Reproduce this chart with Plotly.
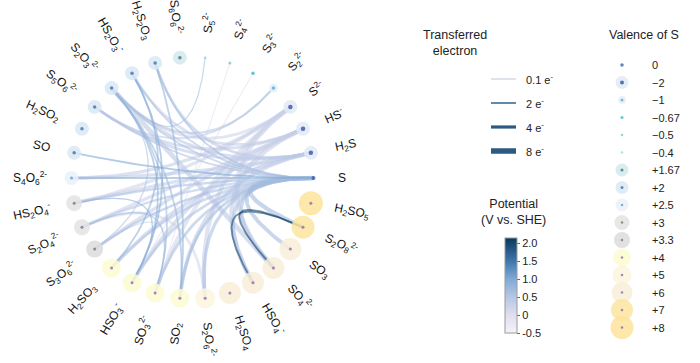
import re
import numpy as np
import plotly.graph_objects as go

# ------------------------------------------------------------------ data
species = ["S", "H2S", "HS-", "S2-", "S2^2-", "S3^2-", "S4^2-", "S5^2-", "S6O6^2-",
           "H2S2O3", "HS2O3-", "S2O3^2-", "S5O6^2-", "H2SO2", "SO", "S4O6^2-",
           "HS2O4-", "S2O4^2-", "S3O6^2-", "H2SO3", "HSO3-", "SO3^2-", "SO2",
           "S2O6^2-", "H2SO4", "HSO4-", "SO4^2-", "SO3", "S2O8^2-", "H2SO5"]
species_labels = [
    "S", "H<sub>2</sub>S", "HS<sup>-</sup>", "S<sup>2-</sup>",
    "S<sub>2</sub><sup>2-</sup>", "S<sub>3</sub><sup>2-</sup>", "S<sub>4</sub><sup>2-</sup>",
    "S<sub>5</sub><sup>2-</sup>", "S<sub>6</sub>O<sub>6</sub><sup>2-</sup>",
    "H<sub>2</sub>S<sub>2</sub>O<sub>3</sub>", "HS<sub>2</sub>O<sub>3</sub><sup>-</sup>",
    "S<sub>2</sub>O<sub>3</sub><sup>2-</sup>", "S<sub>5</sub>O<sub>6</sub><sup>2-</sup>",
    "H<sub>2</sub>SO<sub>2</sub>", "SO", "S<sub>4</sub>O<sub>6</sub><sup>2-</sup>",
    "HS<sub>2</sub>O<sub>4</sub><sup>-</sup>", "S<sub>2</sub>O<sub>4</sub><sup>2-</sup>",
    "S<sub>3</sub>O<sub>6</sub><sup>2-</sup>", "H<sub>2</sub>SO<sub>3</sub>",
    "HSO<sub>3</sub><sup>-</sup>", "SO<sub>3</sub><sup>2-</sup>", "SO<sub>2</sub>",
    "S<sub>2</sub>O<sub>6</sub><sup>2-</sup>", "H<sub>2</sub>SO<sub>4</sub>",
    "HSO<sub>4</sub><sup>-</sup>", "SO<sub>4</sub><sup>2-</sup>", "SO<sub>3</sub>",
    "S<sub>2</sub>O<sub>8</sub><sup>2-</sup>", "H<sub>2</sub>SO<sub>5</sub>"]
valence = [0, -2, -2, -2, -1, -0.67, -0.5, -0.4, 1.67,
           2, 2, 2, 2, 2, 2, 2.5,
           3, 3, 3.3, 4, 4, 4, 4,
           5, 6, 6, 6, 6, 7, 8]

# edges: source, target, transferred electrons, potential (V vs SHE)
edge_src = ["H2S", "H2S", "H2S", "H2S", "H2S", "H2S", "H2S",
            "HS-", "HS-", "HS-", "HS-", "HS-", "HS-",
            "S2-", "S2-", "S2-", "S2-", "S2-", "S2-",
            "S2^2-", "S2^2-", "S3^2-", "S4^2-", "S5^2-",
            "S", "S", "S", "S", "S", "S", "S", "S", "S", "S", "S", "S", "S", "S",
            "S", "S", "S", "S", "S",
            "S2O3^2-", "S2O3^2-", "S2O3^2-", "S2O3^2-", "S2O3^2-",
            "HS2O3-", "HS2O3-", "H2S2O3", "HS2O4-", "S2O4^2-", "S2O6^2-", "S3O6^2-",
            "S2O8^2-", "S2O8^2-"]
edge_dst = ["H2S2O3", "H2SO3", "SO2", "S4O6^2-", "HS2O4-", "S5O6^2-", "S2O3^2-",
            "HS2O3-", "HSO3-", "HSO4-", "S2O4^2-", "S3O6^2-", "S5O6^2-",
            "S2O3^2-", "SO3^2-", "SO4^2-", "S2O6^2-", "S4O6^2-", "HS2O4-",
            "S2O3^2-", "S5O6^2-", "HSO3-", "SO3^2-", "S2O3^2-",
            "S4O6^2-", "SO", "S2O3^2-", "HS2O3-", "H2S2O3", "S5O6^2-", "HS2O4-",
            "S2O4^2-", "S3O6^2-", "H2SO3", "HSO3-", "SO3^2-", "SO2", "S2O6^2-",
            "HSO4-", "SO4^2-", "SO3", "S2O8^2-", "H2S",
            "SO3^2-", "SO4^2-", "HSO3-", "SO2", "S3O6^2-",
            "HSO3-", "H2SO3", "SO2", "HSO3-", "SO3^2-", "S2O4^2-", "SO3^2-",
            "SO4^2-", "HSO4-"]
edge_e = [4, 6, 6, 5, 5, 4, 4,
          4, 6, 8, 5, 5, 4,
          4, 6, 8, 7, 5, 5,
          3, 2, 0.5, 0.5, 1,
          2.5, 2, 2, 2, 2, 2, 3, 3, 3.3, 4, 4, 4, 4, 5,
          6, 6, 6, 7, 2,
          2, 8, 2, 2, 1.3,
          2, 2, 2, 1, 1, 4, 0.7,
          2, 2]
edge_pot = [0.45, 0.35, 0.4, 0.35, 0.3, 0.4, 0.4,
            0.3, 0.3, 0.3, 0.25, 0.3, 0.35,
            0.2, 0.15, 0.2, 0.25, 0.3, 0.2,
            0.45, 0.4, 0.0, 0.0, 0.6,
            0.85, 1.0, 0.55, 0.6, 0.65, 0.55, 0.55, 0.5, 0.6, 0.5, 0.55, 0.6, 0.65, 0.6,
            0.55, 0.6, 0.65, 0.7, 0.14,
            0.7, 0.45, 0.85, 0.75, 0.5,
            0.9, 0.85, 0.8, 0.9, 0.7, 0.1, 0.3,
            2.01, 1.95]

valence_legend = [0, -2, -1, -0.67, -0.5, -0.4, 1.67, 2, 2.5, 3, 3.3, 4, 5, 6, 7, 8]
valence_legend_text = ["0", "\u22122", "\u22121", "\u22120.67", "\u22120.5", "\u22120.4",
                       "+1.67", "+2", "+2.5", "+3", "+3.3", "+4", "+5", "+6", "+7", "+8"]
electron_legend = [0.1, 2, 4, 8]
electron_legend_text = ["0.1 e<sup>-</sup>", "2 e<sup>-</sup>", "4 e<sup>-</sup>", "8 e<sup>-</sup>"]
pot_ticks = [-0.5, 0, 0.5, 1.0, 1.5, 2.0]
pot_ticktext = ["-0.5", "0", "0.5", "1.0", "1.5", "2.0"]

# ------------------------------------------------------------------ styles
FONT = "Arial, Liberation Sans, sans-serif"
halo_color = {0: None, -2: "#e2eaf6", -1: "#e6f0f8", -0.67: None, -0.5: None, -0.4: None,
              1.67: "#d5e9ec", 2: "#d9e7f3", 2.5: "#e9f1f9", 3: "#e3e3e3", 3.3: "#dcdcdc",
              4: "#fdfbd2", 5: "#fcf5de", 6: "#f8eed8", 7: "#fde5a0", 8: "#fde39b"}
halo_size = {0: 0, -2: 14, -1: 9, -0.67: 0, -0.5: 0, -0.4: 0, 1.67: 14, 2: 14, 2.5: 14,
             3: 16, 3.3: 17, 4: 19, 5: 20, 6: 22, 7: 23, 8: 24}
dot_color = {0: "#1e4ba6", -2: "#1c3f9c", -1: "#45a3d6", -0.67: "#22aec6", -0.5: "#5cc3d3",
             -0.4: "#92d5e0", 1.67: "#21696f", 2: "#2e63a6", 2.5: "#4e93cc", 3: "#6a6a6a",
             3.3: "#6a6a6a", 4: "#8757a5", 5: "#8757a5", 6: "#8757a5", 7: "#8757a5", 8: "#8757a5"}
dot_size = {0: 4, -2: 4.5, -1: 3.5, -0.67: 3.5, -0.5: 3, -0.4: 3, 1.67: 3.5, 2: 3.5, 2.5: 3,
            3: 3, 3.3: 3, 4: 3, 5: 3, 6: 3, 7: 3, 8: 3}

CMIN, CMAX = -0.5, 2.14
cs_pts = [(-0.5, (246, 243, 249)), (0.0, (222, 222, 238)), (0.5, (182, 198, 228)),
          (1.0, (128, 170, 214)), (1.5, (62, 118, 172)), (2.14, (10, 56, 92))]
colorscale = [[(v - CMIN) / (CMAX - CMIN), "rgb(%d,%d,%d)" % c] for v, c in cs_pts]


def pot_rgb(p):
    vs = [v for v, _ in cs_pts]
    p = min(max(p, vs[0]), vs[-1])
    for i in range(len(vs) - 1):
        if vs[i] <= p <= vs[i + 1]:
            t = (p - vs[i]) / (vs[i + 1] - vs[i])
            a, b = cs_pts[i][1], cs_pts[i + 1][1]
            return tuple(a[k] + (b[k] - a[k]) * t for k in range(3))
    return cs_pts[-1][1]


def e_width(e):
    return 0.8 + 0.5 * e


def text_width(html, size=12):
    w = {"S": .667, "O": .778, "H": .722, "-": .333}
    total = 0.0
    for m in re.finditer(r"<su[bp]>(.*?)</su[bp]>|([^<]+)", html):
        if m.group(1) is not None:
            txt, f = m.group(1), 0.7
        else:
            txt, f = m.group(2), 1.0
        for ch in txt:
            total += w.get(ch, .556) * size * f
    return total


# ------------------------------------------------------------------ geometry
W, H = 700, 363
CX, CY, R = 192.5, 178.0, 121.0
R_LAB = 145.5
n = len(species)
ang = np.deg2rad(np.arange(n) * 360.0 / n)
nx = CX + R * np.cos(ang)
ny = CY - R * np.sin(ang)
idx = {s: i for i, s in enumerate(species)}

fig = go.Figure()

# edges (quadratic Bezier through the centre)
t = np.linspace(0, 1, 60)
order = np.argsort(edge_pot, kind="stable")
for k in order:
    a, b = idx[edge_src[k]], idx[edge_dst[k]]
    x = (1 - t) ** 2 * nx[a] + 2 * (1 - t) * t * CX + t ** 2 * nx[b]
    y = (1 - t) ** 2 * ny[a] + 2 * (1 - t) * t * CY + t ** 2 * ny[b]
    r, g, bb = pot_rgb(edge_pot[k])
    fig.add_trace(go.Scatter(x=x, y=y, mode="lines", hoverinfo="skip",
                             line=dict(color="rgba(%d,%d,%d,0.6)" % (r, g, bb),
                                       width=e_width(edge_e[k]))))

# node halos and dots
hv = [v for v in valence if halo_color[v]]
hi = [i for i, v in enumerate(valence) if halo_color[v]]
fig.add_trace(go.Scatter(x=nx[hi], y=ny[hi], mode="markers", hoverinfo="skip",
                         marker=dict(size=[halo_size[v] for v in hv],
                                     color=[halo_color[v] for v in hv],
                                     opacity=0.85, line=dict(width=0))))
fig.add_trace(go.Scatter(x=nx, y=ny, mode="markers", hoverinfo="skip",
                         marker=dict(size=[dot_size[v] for v in valence],
                                     color=[dot_color[v] for v in valence],
                                     line=dict(width=0))))

# node labels (radial)
annotations = []
for i, lab in enumerate(species_labels):
    th = np.rad2deg(ang[i])
    if np.cos(ang[i]) >= -1e-9:
        ta = -th
    else:
        ta = 180 - th
    ta = (ta + 180) % 360 - 180
    rr = R_LAB + text_width(lab) / 2
    annotations.append(dict(x=CX + rr * np.cos(ang[i]), y=CY - rr * np.sin(ang[i]),
                            text=lab, showarrow=False, textangle=ta,
                            xanchor="center", yanchor="middle",
                            font=dict(family=FONT, size=12, color="#111")))

# ---- transferred electron legend
annotations.append(dict(x=455, y=43, text="Transferred<br>electron", showarrow=False,
                        xanchor="center", yanchor="middle",
                        font=dict(family=FONT, size=12.5, color="#222")))
el_colors = ["#d6dce6", "#4f7ea4", "#2c5a80", "#2c5a80"]
el_widths = [1.6, 1.8, 3.2, 5.5]
for j, e in enumerate(electron_legend):
    yy = 79 + j * 24
    fig.add_trace(go.Scatter(x=[491, 516], y=[yy, yy], mode="lines", hoverinfo="skip",
                             line=dict(color=el_colors[j], width=el_widths[j])))
    annotations.append(dict(x=524, y=yy, text=electron_legend_text[j], showarrow=False,
                            xanchor="left", yanchor="middle",
                            font=dict(family=FONT, size=11, color="#222")))

# ---- valence legend
annotations.append(dict(x=644, y=35, text="Valence of S", showarrow=False,
                        xanchor="center", yanchor="middle",
                        font=dict(family=FONT, size=12.5, color="#222")))
ly = 65 + np.arange(len(valence_legend)) * 17.5
lh = [j for j, v in enumerate(valence_legend) if halo_color[v]]
fig.add_trace(go.Scatter(x=[622] * len(lh), y=ly[lh], mode="markers", hoverinfo="skip",
                         marker=dict(size=[halo_size[valence_legend[j]] - 1 for j in lh],
                                     color=[halo_color[valence_legend[j]] for j in lh],
                                     opacity=0.85, line=dict(width=0))))
fig.add_trace(go.Scatter(x=[622] * len(valence_legend), y=ly, mode="markers", hoverinfo="skip",
                         marker=dict(size=[dot_size[v] - 0.5 for v in valence_legend],
                                     color=[dot_color[v] for v in valence_legend],
                                     line=dict(width=0))))
for j, txt in enumerate(valence_legend_text):
    annotations.append(dict(x=650, y=ly[j], text=txt, showarrow=False,
                            xanchor="left", yanchor="middle",
                            font=dict(family=FONT, size=11, color="#222")))

# ---- potential colour bar
annotations.append(dict(x=513, y=212, text="Potential<br>(V vs. SHE)", showarrow=False,
                        xanchor="center", yanchor="middle",
                        font=dict(family=FONT, size=12.5, color="#222")))
fig.add_trace(go.Scatter(x=[None], y=[None], mode="markers", hoverinfo="skip",
                         marker=dict(color=[CMIN, CMAX], cmin=CMIN, cmax=CMAX,
                                     colorscale=colorscale, showscale=True,
                                     colorbar=dict(x=505 / W, xanchor="left", xpad=0,
                                                   y=1 - 285.5 / H, yanchor="middle", ypad=0,
                                                   len=95, lenmode="pixels", thickness=12,
                                                   outlinewidth=1, outlinecolor="#9a9a9a",
                                                   ticks="outside", ticklen=3,
                                                   tickcolor="#666", tickwidth=1,
                                                   tickvals=pot_ticks, ticktext=pot_ticktext,
                                                   tickfont=dict(family=FONT, size=11,
                                                                 color="#222")))))

fig.update_layout(width=W, height=H, autosize=False, margin=dict(l=0, r=0, t=0, b=0),
                  paper_bgcolor="white", plot_bgcolor="white", showlegend=False,
                  annotations=annotations,
                  xaxis=dict(range=[0, W], visible=False, fixedrange=True),
                  yaxis=dict(range=[H, 0], visible=False, fixedrange=True))
fig.write_html("out.html", config={"displayModeBar": False},
               post_script="document.body.style.margin='0';document.body.style.overflow='hidden';")
